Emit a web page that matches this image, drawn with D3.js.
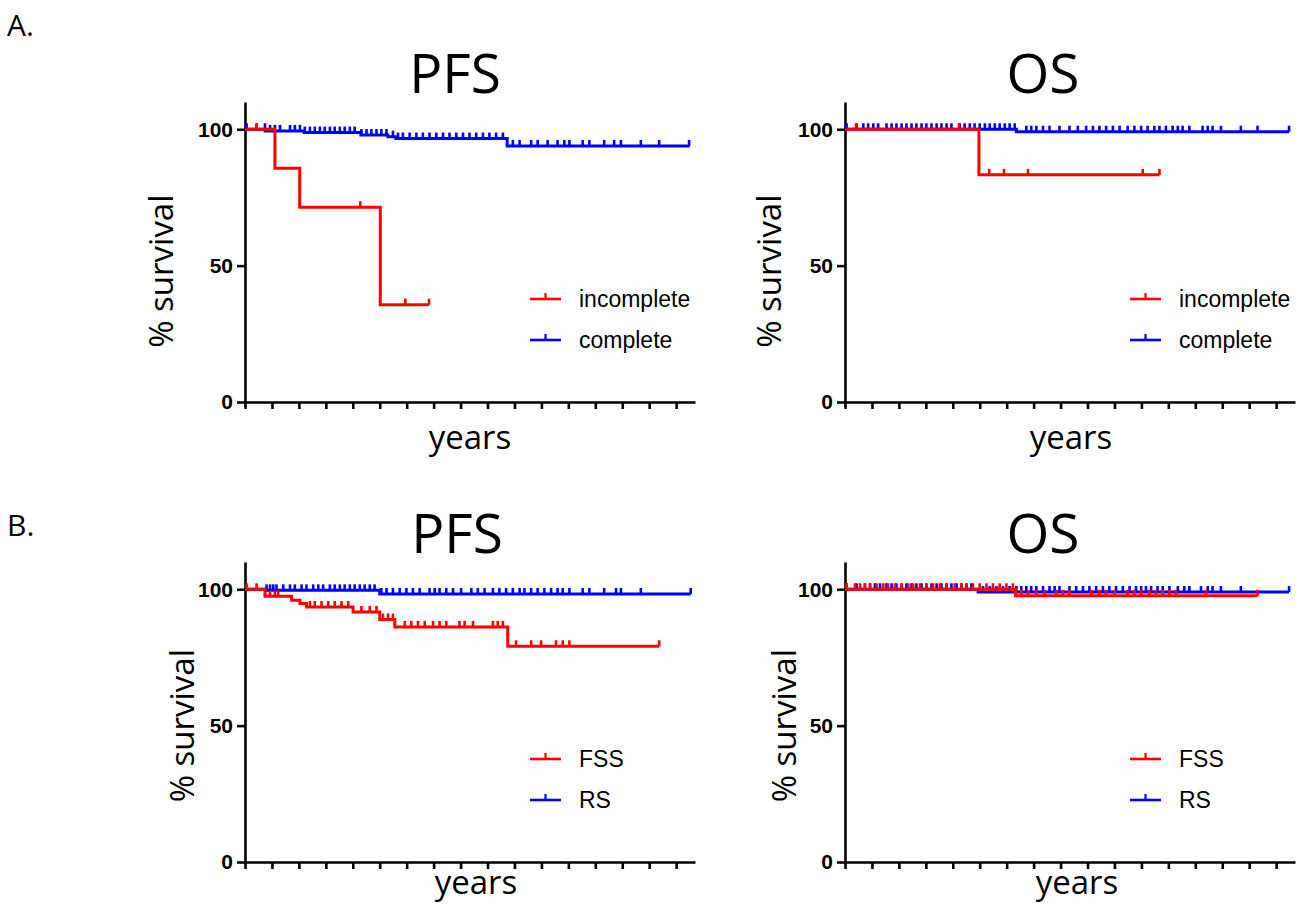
<!DOCTYPE html>
<html lang="en">
<head>
<meta charset="UTF-8">
<title>PFS / OS survival</title>
<script src="https://d3js.org/d3.v7.min.js"></script>
<style>
  body { margin: 0; background: #fff; }
  svg { display: block; }
  .tick-label { font-family: "Liberation Sans", Arial, sans-serif; font-weight: bold; font-size: 21px; fill: #000; }
  .title { font-family: "Open Sans", sans-serif; font-size: 55px; fill: #000; }
  .axis-title { font-family: "Open Sans", sans-serif; font-size: 33px; fill: #000; }
  .panel-letter { font-family: "Open Sans", sans-serif; font-size: 30px; fill: #000; }
  .legend-text { font-family: "Liberation Sans", Arial, sans-serif; font-size: 23px; fill: #000; }
</style>
</head>
<body>
<svg id="chart" width="1305" height="907"></svg>
<script>
// x ticks (years, unlabeled) and y ticks
const xTicks = d3.range(0, 17);
const yTicks = [0, 50, 100];

// ---- A. PFS ----
const aPfsIncSteps = [[0, 100], [1.11, 85.7], [2.03, 71.4], [5.02, 35.7]];
const aPfsIncEnd = 6.83;
const aPfsIncCens = [0.43, 4.28, 5.95, 6.83];
const aPfsCompSteps = [[0, 100], [0.75, 99.4], [2.2, 98.8], [4.3, 97.9], [5.3, 97.3], [5.6, 96.6], [9.73, 93.9]];
const aPfsCompEnd = 16.5;
const aPfsCompCens = [0.06, 0.43, 0.74, 0.93, 1.11, 1.30, 1.67, 1.85, 2.04, 2.22, 2.41, 2.59, 2.78, 2.96, 3.15, 3.33,
  3.52, 3.70, 3.89, 4.07, 4.32, 4.51, 4.69, 4.88, 5.06, 5.25, 5.49, 5.68, 5.86, 6.11, 6.36, 6.60, 6.85, 7.10, 7.35,
  7.59, 7.84, 8.09, 8.33, 8.58, 8.83, 9.07, 9.32, 9.57, 9.94, 10.19, 10.62, 10.86, 11.23, 11.6, 11.85, 12.04, 12.53,
  12.78, 13.33, 13.7, 13.95, 14.69, 15.37, 16.48];

// ---- A. OS ----
const aOsIncSteps = [[0, 100], [4.97, 83.3]];
const aOsIncEnd = 11.67;
const aOsIncCens = [0.41, 4.23, 5.35, 5.9, 6.79, 11.05, 11.67];
const aOsCompSteps = [[0, 100], [6.36, 99.1]];
const aOsCompEnd = 16.48;
const aOsCompCens = [0.06, 0.43, 0.68, 0.86, 1.05, 1.23, 1.54, 1.73, 1.91, 2.10, 2.28, 2.47, 2.65, 2.84, 3.02, 3.21,
  3.40, 3.58, 3.77, 3.95, 4.26, 4.44, 4.63, 4.81, 5.0, 5.19, 5.37, 5.56, 5.74, 5.93, 6.11, 6.30, 6.73, 6.91, 7.10,
  7.35, 7.59, 7.96, 8.33, 8.64, 8.95, 9.20, 9.44, 9.69, 9.94, 10.19, 10.49, 10.74, 10.99, 11.23, 11.48, 11.67, 11.91,
  12.16, 12.35, 12.53, 12.78, 13.27, 13.46, 13.64, 13.95, 14.69, 15.31, 16.48];

// ---- B. PFS ----
const bPfsFssSteps = [[0, 100], [0.74, 97.4], [1.73, 96.0], [2.04, 94.8], [2.28, 93.5], [4.01, 91.7], [5.0, 88.9],
  [5.56, 86.2], [9.75, 79.1]];
const bPfsFssEnd = 15.37;
const bPfsFssCens = [0.06, 0.43, 0.93, 1.11, 1.23, 2.41, 2.59, 2.84, 3.09, 3.33, 3.58, 3.83, 4.32, 4.63, 4.88, 5.12,
  5.31, 5.49, 5.93, 6.17, 6.42, 6.67, 6.98, 7.22, 7.47, 7.96, 8.15, 8.46, 9.2, 9.38, 9.57, 10.06, 10.62, 10.99,
  11.54, 11.79, 12.04, 15.37];
const bPfsRsSteps = [[0, 100], [0.8, 99.6], [5.0, 98.3]];
const bPfsRsEnd = 16.54;
const bPfsRsCens = [0.80, 0.93, 1.05, 1.17, 1.42, 1.67, 1.85, 2.10, 2.28, 2.53, 2.72, 2.90, 3.15, 3.33, 3.52, 3.70,
  3.89, 4.07, 4.26, 4.44, 4.63, 4.81, 5.06, 5.25, 5.49, 5.74, 5.99, 6.23, 6.48, 6.85, 7.04, 7.22, 7.47, 7.72, 8.02,
  8.40, 8.64, 8.89, 9.20, 9.44, 9.69, 9.94, 10.19, 10.37, 10.62, 10.86, 11.11, 11.36, 11.60, 11.79, 12.04, 12.53,
  12.78, 13.33, 13.77, 13.95, 14.69, 16.54];

// ---- B. OS ----
const bOsFssSteps = [[0, 100], [6.33, 97.6]];
const bOsFssEnd = 15.31;
const bOsFssCens = [0.06, 0.37, 0.56, 0.74, 0.93, 1.17, 1.42, 1.60, 1.85, 2.10, 2.35, 2.53, 2.78, 3.02, 3.27, 3.52,
  3.77, 4.07, 4.32, 4.51, 4.75, 5.0, 5.25, 5.49, 5.74, 5.99, 6.23, 6.54, 6.79, 7.10, 7.41, 7.84, 8.09, 8.33, 9.14,
  9.44, 9.69, 10.0, 10.49, 10.74, 10.99, 11.30, 11.54, 11.79, 12.04, 12.28, 13.40, 15.31];
const bOsRsSteps = [[0, 100], [4.94, 99.0]];
const bOsRsEnd = 16.48;
const bOsRsCens = [0.06, 0.43, 0.74, 0.93, 1.11, 1.30, 1.54, 1.73, 1.91, 2.10, 2.28, 2.47, 2.65, 2.84, 3.02, 3.21,
  3.40, 3.58, 3.77, 3.95, 4.14, 4.32, 4.51, 4.69, 5.12, 5.37, 5.62, 5.86, 6.11, 6.36, 6.54, 6.73, 6.91, 7.10, 7.35,
  7.59, 7.78, 7.96, 8.33, 8.58, 8.83, 9.07, 9.32, 9.57, 9.81, 10.06, 10.31, 10.56, 10.80, 10.99, 11.17, 11.36, 11.60,
  11.79, 12.04, 12.35, 12.59, 12.78, 13.21, 13.46, 13.64, 13.95, 14.69, 16.48];

const RED = "#ff0000", BLUE = "#0000ff";

const panels = [
  { x0: 245, yBot: 402, title: "PFS", titleX: 455, titleY: 93, yLabX: 173, yLabV: 48, yearsX: 470, yearsY: 449,
    legX: 530, legY: 299, names: ["incomplete", "complete"],
    series: [
      { steps: aPfsCompSteps, end: aPfsCompEnd, cens: aPfsCompCens, color: BLUE },
      { steps: aPfsIncSteps, end: aPfsIncEnd, cens: aPfsIncCens, color: RED }] },
  { x0: 845, yBot: 402, title: "OS", titleX: 1043, titleY: 93, yLabX: 781, yLabV: 48, yearsX: 1071, yearsY: 449,
    legX: 1130, legY: 299, names: ["incomplete", "complete"],
    series: [
      { steps: aOsCompSteps, end: aOsCompEnd, cens: aOsCompCens, color: BLUE },
      { steps: aOsIncSteps, end: aOsIncEnd, cens: aOsIncCens, color: RED }] },
  { x0: 245, yBot: 862, title: "PFS", titleX: 457, titleY: 553, yLabX: 194, yLabV: 50, yearsX: 476, yearsY: 894,
    legX: 530, legY: 759, names: ["FSS", "RS"],
    series: [
      { steps: bPfsRsSteps, end: bPfsRsEnd, cens: bPfsRsCens, color: BLUE },
      { steps: bPfsFssSteps, end: bPfsFssEnd, cens: bPfsFssCens, color: RED }] },
  { x0: 845, yBot: 862, title: "OS", titleX: 1043, titleY: 553, yLabX: 796, yLabV: 50, yearsX: 1077, yearsY: 894,
    legX: 1130, legY: 759, names: ["FSS", "RS"],
    series: [
      { steps: bOsRsSteps, end: bOsRsEnd, cens: bOsRsCens, color: BLUE },
      { steps: bOsFssSteps, end: bOsFssEnd, cens: bOsFssCens, color: RED }] }
];

const svg = d3.select("#chart");

svg.append("text").attr("class", "panel-letter").attr("x", 7).attr("y", 36).text("A.");
svg.append("text").attr("class", "panel-letter").attr("x", 7).attr("y", 536).text("B.");

function levelAt(steps, t) {
  let v = steps[0][1];
  steps.forEach(s => { if (s[0] <= t) v = s[1]; });
  return v;
}

panels.forEach(p => {
  const x = d3.scaleLinear().domain([0, 16.7]).range([p.x0, p.x0 + 450]);
  const y = d3.scaleLinear().domain([0, 110]).range([p.yBot, p.yBot - 300]);
  const g = svg.append("g");

  // axes
  const xAxis = g.append("g")
    .attr("transform", `translate(0,${p.yBot})`)
    .call(d3.axisBottom(x).tickValues(xTicks).tickSize(7).tickSizeOuter(0).tickFormat(""));
  const yAxis = g.append("g")
    .attr("transform", `translate(${p.x0},0)`)
    .call(d3.axisLeft(y).tickValues(yTicks).tickSize(8).tickSizeOuter(0).tickPadding(4));
  [xAxis, yAxis].forEach(a => {
    a.select(".domain").attr("stroke", "#000").attr("stroke-width", 2.6);
    a.selectAll(".tick line").attr("stroke", "#000").attr("stroke-width", 2.6);
  });
  yAxis.selectAll(".tick text").attr("class", "tick-label");
  yAxis.attr("font-size", null).attr("font-family", null);

  // curves
  const line = d3.line().x(d => x(d[0])).y(d => y(d[1])).curve(d3.curveStepAfter);
  p.series.forEach(s => {
    const pts = s.steps.concat([[s.end, s.steps[s.steps.length - 1][1]]]);
    g.append("path").datum(pts)
      .attr("d", line)
      .attr("fill", "none").attr("stroke", s.color).attr("stroke-width", 3);
    g.selectAll(null).data(s.cens).enter().append("line")
      .attr("x1", d => x(d)).attr("x2", d => x(d))
      .attr("y1", d => y(levelAt(s.steps, d)))
      .attr("y2", d => y(levelAt(s.steps, d)) - 6)
      .attr("stroke", s.color).attr("stroke-width", 2.6);
  });

  // titles
  g.append("text").attr("class", "title")
    .attr("x", p.titleX).attr("y", p.titleY).attr("text-anchor", "middle").text(p.title);
  g.append("text").attr("class", "axis-title")
    .attr("x", p.yearsX).attr("y", p.yearsY).attr("text-anchor", "middle").text("years");
  g.append("text").attr("class", "axis-title")
    .attr("transform", `translate(${p.yLabX},${y(p.yLabV)}) rotate(-90)`)
    .attr("text-anchor", "middle").text("% survival");

  // legend
  [RED, BLUE].forEach((c, i) => {
    const ly = p.legY + i * 41;
    g.append("line").attr("x1", p.legX).attr("x2", p.legX + 31).attr("y1", ly).attr("y2", ly)
      .attr("stroke", c).attr("stroke-width", 2.6);
    g.append("line").attr("x1", p.legX + 15.5).attr("x2", p.legX + 15.5).attr("y1", ly).attr("y2", ly - 6)
      .attr("stroke", c).attr("stroke-width", 2.2);
    g.append("text").attr("class", "legend-text")
      .attr("x", p.legX + 49).attr("y", ly).attr("dy", "0.35em").text(p.names[i]);
  });
});
</script>
</body>
</html>
